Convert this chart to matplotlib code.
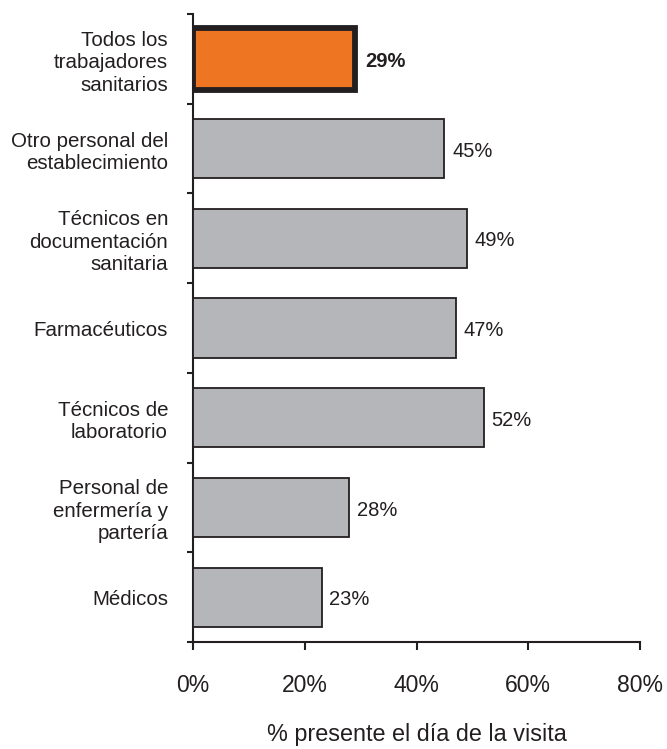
import matplotlib
matplotlib.use("Agg")
import matplotlib.pyplot as plt
import numpy as np

categories = [
    "Todos los\ntrabajadores\nsanitarios",
    "Otro personal del\nestablecimiento",
    "Técnicos en\ndocumentación\nsanitaria",
    "Farmacéuticos",
    "Técnicos de\nlaboratorio",
    "Personal de\nenfermería y\npartería",
    "Médicos",
]
values = [29, 45, 49, 47, 52, 28, 23]
xticks = [0, 20, 40, 60, 80]
xlabel = "% presente el día de la visita"

plt.rcParams['font.family'] = ['Liberation Sans', 'DejaVu Sans']
ink = "#231F20"
grey = "#B5B6B9"
orange = "#EE7623"

fig = plt.figure(figsize=(6.67, 7.49), dpi=100)
ax = fig.add_axes([193/667, 1-642/749, (640-193)/667, (642-14)/749])

n = len(categories)
ypos = np.arange(n)
colors = [orange] + [grey]*(n-1)
lws = [4.2] + [1.3]*(n-1)
heights = [0.69] + [0.66]*(n-1)
for y, v, c, lw, h in zip(ypos, values, colors, lws, heights):
    ax.barh(y, v, height=h, color=c, edgecolor=ink, linewidth=lw, zorder=3)
    ax.text(v + (1.8 if y == 0 else 1.4), y + 0.03, f"{v}%", va="center", ha="left",
            fontsize=14.5, color=ink, fontweight="bold" if y == 0 else "normal")

ax.set_ylim(n - 0.5, -0.5)
ax.set_xlim(0, 80)

ax.set_yticks(np.arange(-0.5, n, 1.0))
ax.set_yticklabels([])
ax.set_yticks(ypos, minor=True)
ax.set_yticklabels(categories, minor=True, fontsize=14.8, color=ink, linespacing=1.24)
ax.tick_params(axis="y", which="major", direction="out", length=4.5, width=1.5, color=ink)
ax.tick_params(axis="y", which="minor", length=0, pad=18)

ax.set_xticks(xticks)
ax.set_xticklabels([f"{t}%" for t in xticks], fontsize=16.5, color=ink)
ax.tick_params(axis="x", direction="out", length=6, width=1.5, color=ink, pad=17)

ax.set_xlabel(xlabel, fontsize=16.8, color=ink, labelpad=19)

for s in ["top", "right"]:
    ax.spines[s].set_visible(False)
for s in ["left", "bottom"]:
    ax.spines[s].set_linewidth(1.5)
    ax.spines[s].set_color(ink)

fig.savefig("out.png", dpi=100)
